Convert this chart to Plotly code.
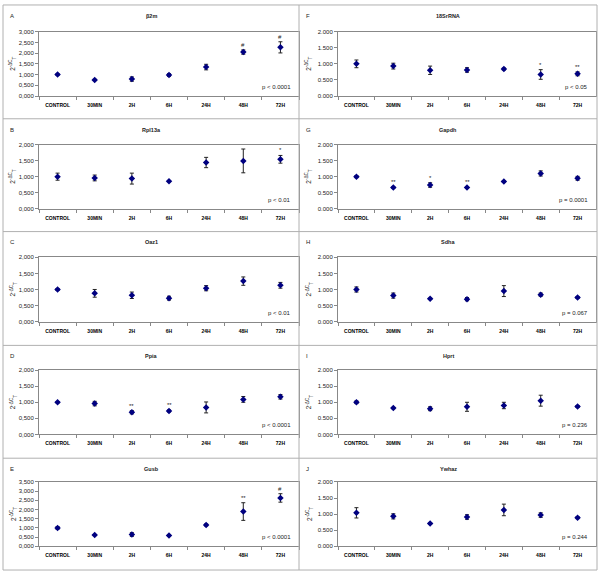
import plotly.graph_objects as go

categories = ["CONTROL", "30MIN", "2H", "6H", "24H", "48H", "72H"]

# Left column
b2m_mean = [1.00, 0.75, 0.79, 0.98, 1.35, 2.05, 2.27]
b2m_err = [0.03, 0.03, 0.10, 0.06, 0.13, 0.10, 0.26]
b2m_sig = ["", "", "", "", "", "#", "#"]

rpl_mean = [1.00, 0.96, 0.94, 0.86, 1.44, 1.49, 1.54]
rpl_err = [0.11, 0.09, 0.17, 0.02, 0.16, 0.37, 0.12]
rpl_sig = ["", "", "", "", "", "", "*"]

oaz_mean = [1.00, 0.88, 0.82, 0.73, 1.04, 1.26, 1.13]
oaz_err = [0.03, 0.12, 0.10, 0.06, 0.08, 0.13, 0.09]
oaz_sig = ["", "", "", "", "", "", ""]

ppia_mean = [1.00, 0.96, 0.69, 0.73, 0.84, 1.09, 1.17]
ppia_err = [0.02, 0.07, 0.05, 0.03, 0.17, 0.09, 0.07]
ppia_sig = ["", "", "**", "**", "", "", ""]

gusb_mean = [1.00, 0.61, 0.64, 0.59, 1.16, 1.89, 2.63]
gusb_err = [0.07, 0.03, 0.10, 0.03, 0.05, 0.48, 0.23]
gusb_sig = ["", "", "", "", "", "**", "#"]

# Right column
rrna_mean = [1.00, 0.93, 0.80, 0.81, 0.84, 0.67, 0.69]
rrna_err = [0.12, 0.09, 0.13, 0.07, 0.03, 0.15, 0.06]
rrna_sig = ["", "", "", "", "", "*", "**"]

gapdh_mean = [1.00, 0.66, 0.74, 0.66, 0.85, 1.10, 0.95]
gapdh_err = [0.03, 0.02, 0.07, 0.02, 0.02, 0.08, 0.06]
gapdh_sig = ["", "**", "*", "**", "", "", ""]

sdha_mean = [1.00, 0.81, 0.71, 0.70, 0.95, 0.84, 0.75]
sdha_err = [0.08, 0.08, 0.02, 0.05, 0.17, 0.05, 0.03]
sdha_sig = ["", "", "", "", "", "", ""]

hprt_mean = [1.00, 0.82, 0.80, 0.86, 0.90, 1.05, 0.87]
hprt_err = [0.04, 0.02, 0.06, 0.14, 0.10, 0.17, 0.03]
hprt_sig = ["", "", "", "", "", "", ""]

ywhaz_mean = [1.04, 0.93, 0.71, 0.91, 1.13, 0.97, 0.89]
ywhaz_err = [0.16, 0.08, 0.02, 0.07, 0.18, 0.07, 0.03]
ywhaz_sig = ["", "", "", "", "", "", ""]

panel_letters = ["A", "B", "C", "D", "E", "F", "G", "H", "I", "J"]
panel_titles = ["β2m", "Rpl13a", "Oaz1", "Ppia", "Gusb",
                "18SrRNA", "Gapdh", "Sdha", "Hprt", "Ywhaz"]
p_texts = ["p < 0.0001", "p < 0.01", "p < 0.01", "p < 0.0001", "p < 0.0001",
           "p < 0.05", "p = 0.0001", "p = 0.067", "p = 0.236", "p = 0.244"]

ytick_vals_3 = [0, 0.5, 1.0, 1.5, 2.0, 2.5, 3.0]
ytick_text_3 = ["0,000", "0,500", "1,000", "1,500", "2,000", "2,500", "3,000"]
ytick_vals_35 = [0, 0.5, 1.0, 1.5, 2.0, 2.5, 3.0, 3.5]
ytick_text_35 = ["0,000", "0,500", "1,000", "1,500", "2,000", "2,500", "3,000", "3,500"]
ytick_vals_2 = [0, 0.5, 1.0, 1.5, 2.0]
ytick_text_2c = ["0,000", "0,500", "1,000", "1,500", "2,000"]
ytick_text_2p = ["0.000", "0.500", "1.000", "1.500", "2.000"]

means = [b2m_mean, rpl_mean, oaz_mean, ppia_mean, gusb_mean,
         rrna_mean, gapdh_mean, sdha_mean, hprt_mean, ywhaz_mean]
errs = [b2m_err, rpl_err, oaz_err, ppia_err, gusb_err,
        rrna_err, gapdh_err, sdha_err, hprt_err, ywhaz_err]
sigs = [b2m_sig, rpl_sig, oaz_sig, ppia_sig, gusb_sig,
        rrna_sig, gapdh_sig, sdha_sig, hprt_sig, ywhaz_sig]
yranges = [3.0, 2.0, 2.0, 2.0, 3.5, 2.0, 2.0, 2.0, 2.0, 2.0]
yticks = [(ytick_vals_3, ytick_text_3), (ytick_vals_2, ytick_text_2c),
          (ytick_vals_2, ytick_text_2c), (ytick_vals_2, ytick_text_2c),
          (ytick_vals_35, ytick_text_35),
          (ytick_vals_2, ytick_text_2p), (ytick_vals_2, ytick_text_2p),
          (ytick_vals_2, ytick_text_2p), (ytick_vals_2, ytick_text_2p),
          (ytick_vals_2, ytick_text_2p)]

W, H = 600, 575
col_x = [(39, 299), (338, 596)]
row_top = [29, 143, 257, 371, 484]
plot_h = 65
panel_x = [(3, 299), (299, 597)]
panel_y = [2, 117, 231, 346, 460, 573]

FONT = "Liberation Sans, Arial, sans-serif"
TXT = "#222222"
fig = go.Figure()
annotations = []
shapes = []
layout_axes = {}

for i in range(10):
    col = i // 5
    row = i % 5
    sfx = "" if i == 0 else str(i + 1)
    x0, x1 = col_x[col]
    yt = row_top[row]
    yb = yt + plot_h
    fig.add_trace(go.Scatter(
        x=categories, y=means[i], mode="markers",
        marker=dict(symbol="diamond", size=5, color="#000080"),
        error_y=dict(type="data", array=errs[i], visible=True,
                     color="#222222", thickness=1, width=2),
        xaxis="x" + sfx, yaxis="y" + sfx, showlegend=False, hoverinfo="skip"))
    layout_axes["xaxis" + sfx] = dict(
        domain=[x0 / W, x1 / W], anchor="y" + sfx, type="category",
        categoryarray=categories, categoryorder="array", range=[-0.5, 6.5],
        tickson="boundaries", ticks="outside", ticklen=3, tickcolor="#888888",
        tickangle=0, ticklabelstandoff=4,
        showline=True, linecolor="#888888", linewidth=1, mirror=True,
        showgrid=False, zeroline=False,
        tickfont=dict(family=FONT, size=5, color="black", weight="bold"))
    tv, tt = yticks[i]
    layout_axes["yaxis" + sfx] = dict(
        domain=[1 - yb / H, 1 - yt / H], anchor="x" + sfx,
        range=[0, yranges[i]], tickvals=tv, ticktext=tt,
        ticks="outside", ticklen=3, tickcolor="#888888",
        showline=True, linecolor="#888888", linewidth=1, mirror=True,
        showgrid=False, zeroline=False,
        tickfont=dict(family=FONT, size=6, color=TXT))
    px0, px1 = panel_x[col]
    ptop = panel_y[row]
    annotations.append(dict(x=(px0 + 5) / W, y=1 - (ptop + 11) / H, xref="paper", yref="paper",
                            text=panel_letters[i], showarrow=False, xanchor="left", yanchor="middle",
                            font=dict(family=FONT, size=6, color=TXT)))
    annotations.append(dict(x=(px0 + px1) / 2 / W, y=1 - (ptop + 11) / H, xref="paper", yref="paper",
                            text="<b>" + panel_titles[i] + "</b>", showarrow=False,
                            xanchor="center", yanchor="middle",
                            font=dict(family=FONT, size=5.5, color=TXT)))
    annotations.append(dict(x=(px0 + 10) / W, y=1 - (yt + plot_h / 2) / H, xref="paper", yref="paper",
                            text="2<sup>-ΔC</sup><sub>T</sub>", textangle=-90, showarrow=False,
                            xanchor="center", yanchor="middle",
                            font=dict(family=FONT, size=6.5, color=TXT)))
    annotations.append(dict(x=(x1 - 6) / W, y=1 - (yb - 4) / H, xref="paper", yref="paper",
                            text=p_texts[i], showarrow=False, xanchor="right", yanchor="bottom",
                            font=dict(family=FONT, size=6, color=TXT)))
    for c, m, e, s in zip(categories, means[i], errs[i], sigs[i]):
        if s:
            annotations.append(dict(x=c, y=m + e, xref="x" + sfx, yref="y" + sfx,
                                    text=s, showarrow=False, xanchor="center", yanchor="bottom",
                                    yshift=0, font=dict(family=FONT, size=6, color=TXT)))

for xv in [3, 299, 597]:
    shapes.append(dict(type="line", xref="paper", yref="paper", x0=xv / W, x1=xv / W,
                       y0=1 - 2 / H, y1=1 - 573 / H, line=dict(color="#b0b0b0", width=1)))
for yv in panel_y:
    shapes.append(dict(type="line", xref="paper", yref="paper", x0=3 / W, x1=597 / W,
                       y0=1 - yv / H, y1=1 - yv / H, line=dict(color="#b0b0b0", width=1)))

fig.update_layout(width=W, height=H, margin=dict(l=0, r=0, t=0, b=0),
                  paper_bgcolor="white", plot_bgcolor="white",
                  annotations=annotations, shapes=shapes, **layout_axes)
fig.write_html("out.html", config={"displayModeBar": False},
               post_script="document.body.style.margin='0';document.body.style.overflow='hidden';")
